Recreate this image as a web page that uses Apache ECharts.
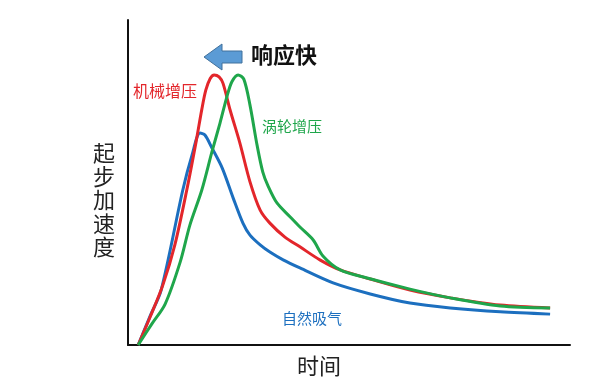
<!DOCTYPE html>
<html>
<head>
<meta charset="utf-8">
<script src="https://cdn.jsdelivr.net/npm/echarts@6/dist/echarts.min.js"></script>
<style>html,body{margin:0;padding:0;background:#fff}#c{width:600px;height:381px}</style>
</head>
<body>
<div id="c"></div>
<script>
// Data (time units 0-100, acceleration units 0-100)
var seriesNames = ['机械增压', '涡轮增压', '自然吸气'];
var superchargedData = [[2.3,0],[5.0,8.6],[7.9,18.5],[10.6,30.8],[13.3,47.7],[15.4,62.5],[16.7,72.5],[17.6,78.4],[18.6,82.0],[19.5,83.1],[20.6,82.5],[21.5,80.5],[23.1,72.3],[25.3,62.2],[27.6,50.2],[29.9,41.5],[32.1,37.5],[35.5,33.2],[38.9,30.2],[43.4,26.2],[48.0,23.1],[54.8,20.3],[63.8,16.9],[72.9,14.5],[84.2,12.3],[95.5,11.4]];
var turboData = [[2.3,0],[5.4,6.5],[8.4,12.6],[11.8,25.5],[14.0,36.9],[16.7,47.7],[19.0,59.5],[20.8,68.2],[22.4,76.5],[23.5,81.0],[24.9,83.1],[26.2,81.8],[27.6,73.8],[29.2,61.5],[30.5,53.2],[31.7,48.9],[33.7,43.7],[36.7,39.4],[38.9,36.3],[41.9,32.3],[44.1,27.4],[48.0,23.1],[54.1,20.6],[63.8,17.2],[72.9,14.5],[84.2,12.0],[95.5,11.4]];
var naturalData = [[2.3,0],[5.0,8.9],[7.5,16.9],[12.4,47.7],[14.5,58.5],[16.3,65.2],[17.4,64.6],[19.0,60.6],[21.3,54.5],[23.8,45.2],[26.0,37.5],[27.6,33.8],[29.9,30.8],[32.1,28.6],[35.1,26.2],[38.9,23.7],[46.4,19.1],[54.8,15.7],[63.8,12.9],[72.9,11.4],[84.2,10.2],[95.5,9.5]];
var xAxisTitle = '时间';
var yAxisTitle = '起步加速度';
var annotation = '响应快';

var colors = ['#e3262b', '#1fa64b', '#1c6fbf'];
var font = '"Noto Sans CJK SC", "Noto Sans", sans-serif';
var chart = echarts.init(document.getElementById('c'), null, {renderer: 'canvas'});

function lineSeries(name, data, color) {
  return {
    name: name, type: 'line', data: data, smooth: 0.3, symbol: 'none',
    lineStyle: {color: color, width: 3}, z: 3
  };
}

chart.setOption({
  animation: false,
  backgroundColor: '#fff',
  grid: {left: 128, right: 30, top: 20, bottom: 36},
  xAxis: {
    type: 'value', min: 0, max: 100,
    axisLine: {show: true, lineStyle: {color: '#111', width: 2}},
    axisTick: {show: false}, axisLabel: {show: false}, splitLine: {show: false}
  },
  yAxis: {
    type: 'value', min: 0, max: 100,
    axisLine: {show: true, lineStyle: {color: '#111', width: 2}},
    axisTick: {show: false}, axisLabel: {show: false}, splitLine: {show: false}
  },
  series: [
    lineSeries(seriesNames[2], naturalData, colors[2]),
    lineSeries(seriesNames[0], superchargedData, colors[0]),
    lineSeries(seriesNames[1], turboData, colors[1])
  ],
  graphic: [
    {type: 'text', left: 133, top: 83, style: {text: seriesNames[0], fill: colors[0], font: '16px ' + font}},
    {type: 'text', left: 262, top: 119, style: {text: seriesNames[1], fill: colors[1], font: '15px ' + font}},
    {type: 'text', left: 282, top: 311, style: {text: seriesNames[2], fill: colors[2], font: '15px ' + font}},
    {type: 'text', left: 251, top: 44, style: {text: annotation, fill: '#111', font: 'bold 22px ' + font}},
    {type: 'text', left: 297, top: 355, style: {text: xAxisTitle, fill: '#222', font: '22px ' + font}},
    {type: 'text', left: 93, top: 141, style: {text: yAxisTitle.split('').join('\n'), fill: '#222', font: '22px ' + font, lineHeight: 23.5}},
    {type: 'polygon', shape: {points: [[204,57],[222,44],[222,51],[242,51],[242,63],[222,63],[222,70]]},
     style: {fill: '#5b9bd5', stroke: '#41719c', lineWidth: 1}}
  ]
});
</script>
</body>
</html>
